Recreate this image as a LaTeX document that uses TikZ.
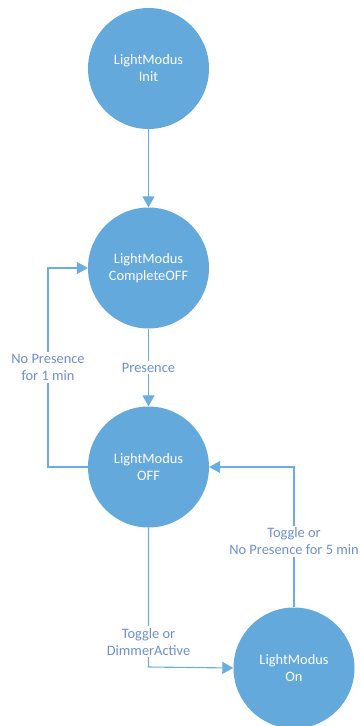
\documentclass[tikz,border=0pt]{standalone}
\usepackage{fontspec}
\setmainfont{Carlito}
\usetikzlibrary{arrows.meta}
\definecolor{statefill}{HTML}{64A9DB}
\definecolor{edgeline}{HTML}{6AAEE0}
\definecolor{labeltext}{HTML}{6E8FCF}
\tikzset{
  state/.style={circle, fill=statefill, draw=none, minimum size=121pt, inner sep=0pt,
    text=white, align=center, font=\fontsize{14.4}{17}\selectfont},
  trans/.style={draw=edgeline, line width=1.1pt,
    -{Triangle[width=12pt,length=11pt]}},
  lbl/.style={fill=white, text=labeltext, align=center, inner sep=2pt,
    font=\fontsize{14.4}{17}\selectfont},
}
\begin{document}
\begin{tikzpicture}[x=1pt,y=-1pt]
  \useasboundingbox (0,0) rectangle (360,726);
  % states
  \node[state] (init)  at (148.5,68.5) {LightModus\\Init};
  \node[state] (coff)  at (148.5,268)  {LightModus\\CompleteOFF};
  \node[state] (off)   at (148.5,467)  {LightModus\\OFF};
  \node[state] (on)    at (294,668)    {LightModus\\On};
  % bend points
  \coordinate (lt) at (48,268);
  \coordinate (lb) at (48,467);
  \coordinate (bl) at (148.5,667);
  \coordinate (rt) at (294,467);
  % transitions
  \draw[trans] (init) -- (coff);
  \draw[trans] (coff) -- node[lbl, pos=0.5] {Presence} (off);
  \draw[trans] (off.west) -- (lb) -- node[lbl, pos=0.5] {No Presence\\for 1 min} (lt) -- (coff.west);
  \draw[trans] (off.south) -- node[lbl, pos=0.82] {Toggle or\\DimmerActive} (bl) -- (on.west);
  \draw[trans] (on.north) -- node[lbl, pos=0.47] {Toggle or\\No Presence for 5 min} (rt) -- (off.east);
\end{tikzpicture}
\end{document}
